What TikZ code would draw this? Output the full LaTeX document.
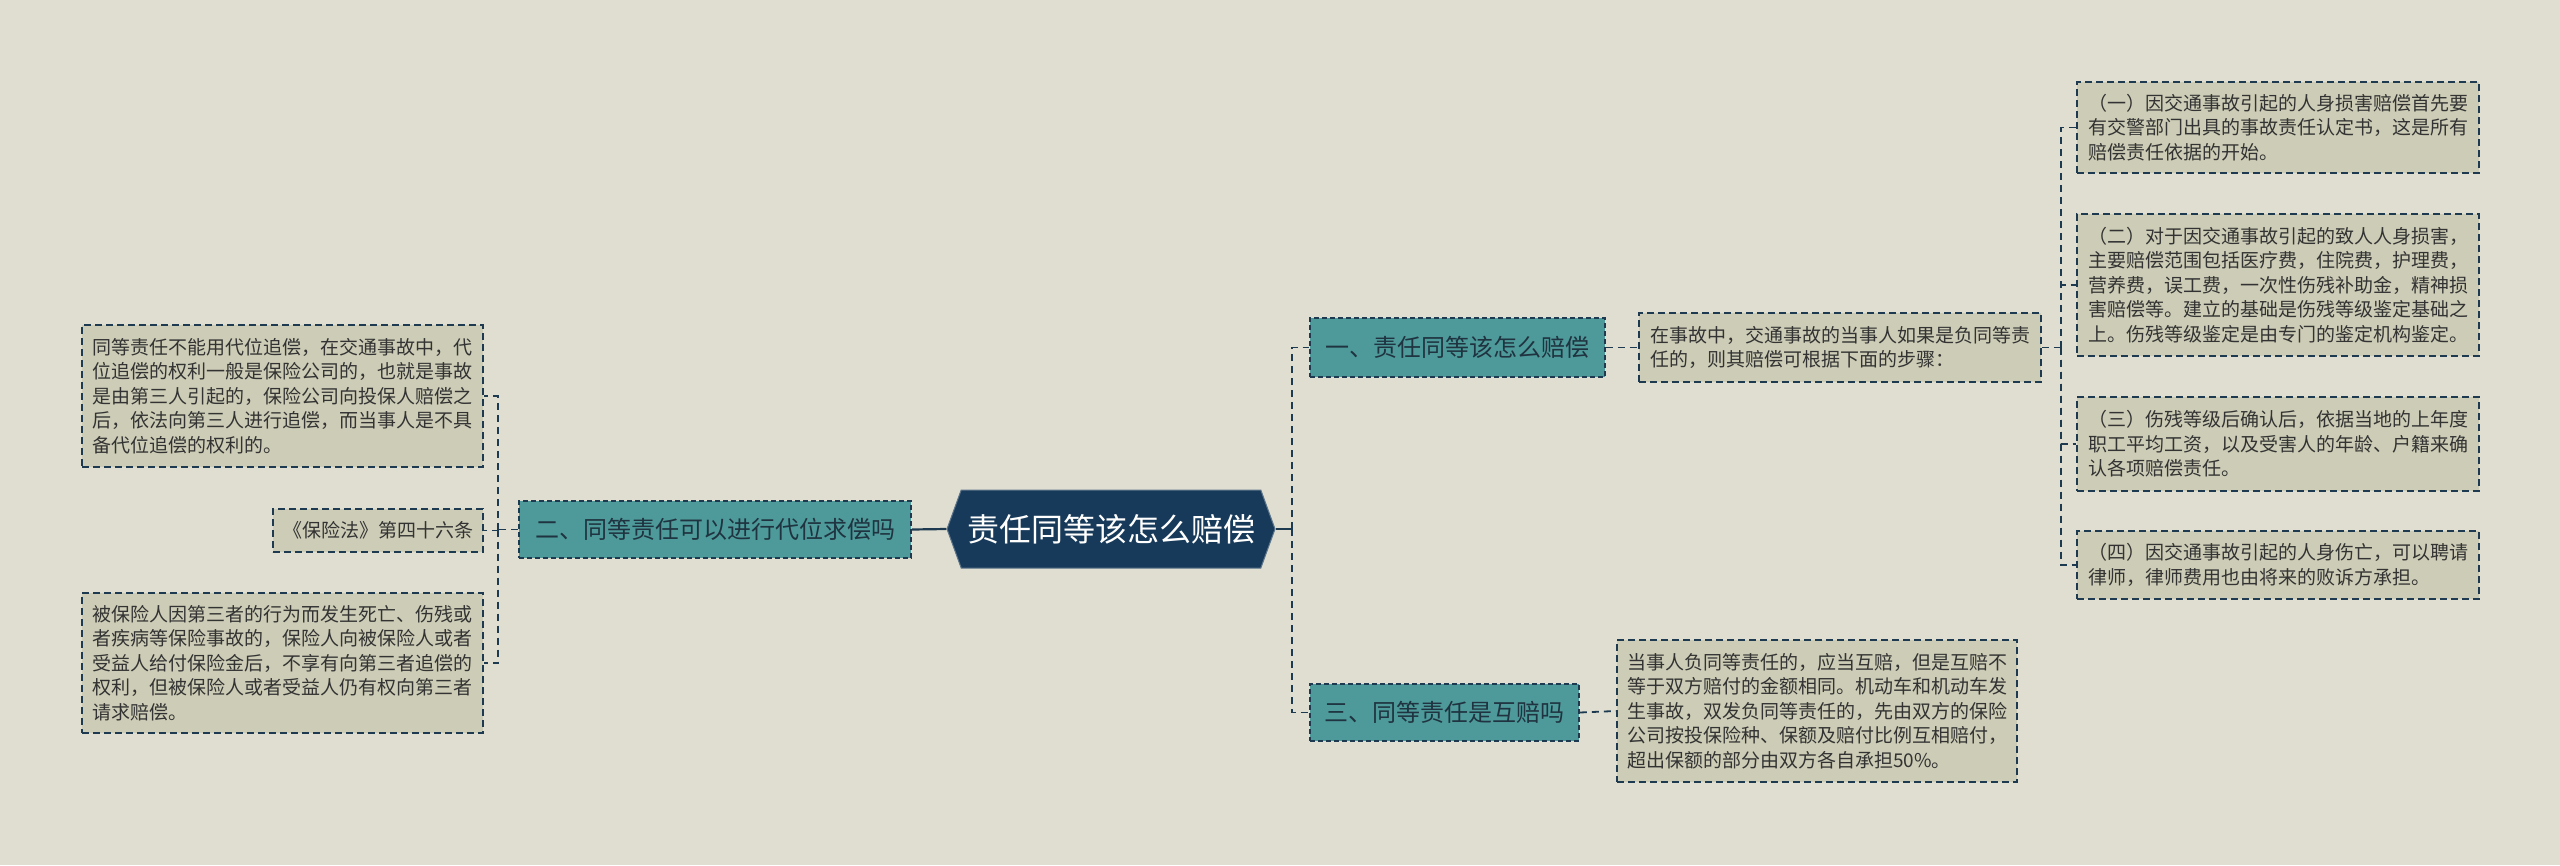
\documentclass[tikz,border=0pt]{standalone}
\usepackage{fontspec}
\setmainfont{Noto Sans CJK SC}
\usetikzlibrary{shapes.symbols}
\definecolor{bgc}{HTML}{DFDED0}
\definecolor{navy}{HTML}{173A5A}
\definecolor{linec}{HTML}{1E3A50}
\definecolor{tealc}{HTML}{4E9A9B}
\definecolor{leafc}{HTML}{CDCCB6}
\definecolor{txtc}{HTML}{333333}
\definecolor{tealtxt}{HTML}{1F3440}
\begin{document}
\begin{tikzpicture}[x=1pt,y=-1pt,
  link/.style={draw=linec,line width=1.8pt,dash pattern=on 7pt off 5pt},
  solidlink/.style={draw=linec,line width=2.2pt},
  leaf/.style={draw=linec,line width=1.6pt,dash pattern=on 7pt off 4pt,fill=leafc,
    text=txtc,align=left,inner sep=0pt,font=\fontsize{19}{24.5}\selectfont},
  topic/.style={draw=linec,line width=1.6pt,dash pattern=on 5pt off 3pt,fill=tealc,
    text=tealtxt,inner sep=0pt,font=\fontsize{24}{28}\selectfont},
  root/.style={shape=signal,signal to=west and east,signal pointer angle=140,
    fill=navy,draw=navy!70!white,line width=1pt,text=white,inner sep=0pt,
    font=\fontsize{32}{36}\selectfont}
]
\useasboundingbox (0,0) rectangle (2560,865);
\fill[bgc] (0,0) rectangle (2560,865);

% root
\node[root,minimum width=328pt,minimum height=78pt] (center) at (1111,529) {责任同等该怎么赔偿};

% left side
\node[topic,minimum width=392pt,minimum height=57pt] (n2) at (715,529.5) {二、同等责任可以进行代位求偿吗};
\node[leaf,minimum width=401pt,minimum height=142pt] (L1) at (282.5,396) {同等责任不能用代位追偿，在交通事故中，代\\位追偿的权利一般是保险公司的，也就是事故\\是由第三人引起的，保险公司向投保人赔偿之\\后，依法向第三人进行追偿，而当事人是不具\\备代位追偿的权利的。};
\node[leaf,minimum width=210pt,minimum height=43pt,align=center] (L2) at (378,530.5) {《保险法》第四十六条};
\node[leaf,minimum width=401pt,minimum height=140pt] (L3) at (282.5,663) {被保险人因第三者的行为而发生死亡、伤残或\\者疾病等保险事故的，保险人向被保险人或者\\受益人给付保险金后，不享有向第三者追偿的\\权利，但被保险人或者受益人仍有权向第三者\\请求赔偿。};

% right side, topic 1
\node[topic,minimum width=295pt,minimum height=59pt] (n1) at (1457.5,347.5) {一、责任同等该怎么赔偿};
\node[leaf,minimum width=402pt,minimum height=69pt] (leaf1) at (1840,347.5) {在事故中，交通事故的当事人如果是负同等责\\任的，则其赔偿可根据下面的步骤：};
\node[leaf,minimum width=402pt,minimum height=91pt] (R1) at (2278,127.5) {（一）因交通事故引起的人身损害赔偿首先要\\有交警部门出具的事故责任认定书，这是所有\\赔偿责任依据的开始。};
\node[leaf,minimum width=402pt,minimum height=142pt] (R2) at (2278,285) {（二）对于因交通事故引起的致人人身损害，\\主要赔偿范围包括医疗费，住院费，护理费，\\营养费，误工费，一次性伤残补助金，精神损\\害赔偿等。建立的基础是伤残等级鉴定基础之\\上。伤残等级鉴定是由专门的鉴定机构鉴定。};
\node[leaf,minimum width=402pt,minimum height=94pt] (R3) at (2278,444) {（三）伤残等级后确认后，依据当地的上年度\\职工平均工资，以及受害人的年龄、户籍来确\\认各项赔偿责任。};
\node[leaf,minimum width=402pt,minimum height=68pt] (R4) at (2278,565) {（四）因交通事故引起的人身伤亡，可以聘请\\律师，律师费用也由将来的败诉方承担。};

% topic 3
\node[topic,minimum width=269pt,minimum height=57pt] (n3) at (1444.5,712.5) {三、同等责任是互赔吗};
\node[leaf,minimum width=400pt,minimum height=142pt] (leaf3) at (1817,711) {当事人负同等责任的，应当互赔，但是互赔不\\等于双方赔付的金额相同。机动车和机动车发\\生事故，双发负同等责任的，先由双方的保险\\公司按投保险种、保额及赔付比例互相赔付，\\超出保额的部分由双方各自承担50\%。};

% junctions
\coordinate (jl) at (498,529.5);
\coordinate (jr) at (1292,529);
\coordinate (jr1) at (2061,347.5);

% connectors
\draw[solidlink] (n2.east) -- (center.west);
\draw[link] (n2.west) -- (jl);
\draw[link] (jl) |- (L1.east);
\draw[link] (jl) |- (L3.east);
\draw[link] (jl) |- (L2.east);

\draw[solidlink] (center.east) -- (jr);
\draw[link] (jr) |- (n1.west);
\draw[link] (jr) |- (n3.west);
\draw[link] (n1.east) -- (leaf1.west);
\draw[link] (leaf1.east) -- (jr1);
\draw[link] (jr1) |- (R1.west);
\draw[link] (jr1) |- (R2.west);
\draw[link] (jr1) |- (R3.west);
\draw[link] (jr1) |- (R4.west);
\draw[link] (n3.east) -- (leaf3.west);
\end{tikzpicture}
\end{document}
